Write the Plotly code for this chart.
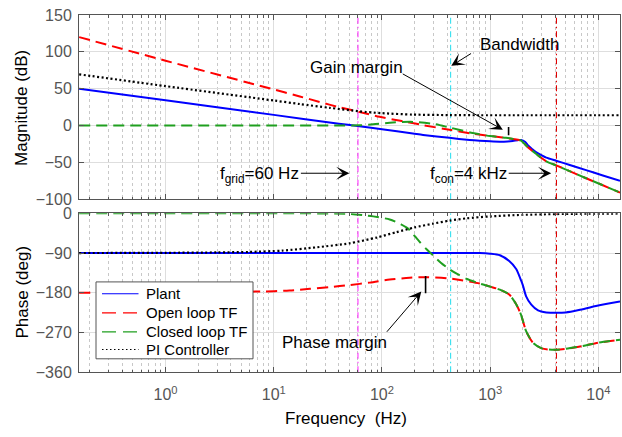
import numpy as np
import plotly.graph_objects as go

# ---------------- data ----------------
# Magnitude (dB)
plant_mag_f = [0.159, 1, 10, 40, 62, 100, 193, 240, 420, 646, 800, 1000, 1230, 1450, 1620,
               1800, 1930, 2100, 2240, 2450, 2650, 3000, 3300, 4130, 5350, 7700, 11000, 15850]
plant_mag = [50, 34.5, 14.5, 2.5, -1.0, -5, -10.7, -12.7, -16.7, -19.6, -20.6, -21.4, -21.8, -21.5, -20.8,
             -19.8, -19.5, -22, -27, -32, -36, -40.5, -43.5, -48, -53.2, -60.5, -67.7, -75]

open_mag_f = [0.159, 1, 10, 17.4, 26.6, 40, 62, 95, 130, 168, 240, 420, 690, 1060, 1620,
              1930, 2240, 2650, 3300, 4130, 5350, 7700, 11000, 15850]
open_mag = [120, 88, 49, 39.5, 32, 25, 18.5, 11.9, 8, 5, 0.6, -5.7, -11.0, -14.5, -18.2,
            -20.5, -29.6, -38.3, -48.5, -54.3, -61.5, -71.5, -81, -91]

closed_mag_f = [0.159, 10, 40, 62, 83, 126, 193, 295, 420, 690, 1000, 1400, 1750, 1930,
                2240, 2650, 3300, 4130, 5350, 7700, 11000, 15850]
closed_mag = [0, 0, 0.2, 0.4, 1.7, 4.2, 5.0, 2.4, -2.6, -10, -14.3, -16.6, -18.8, -20.5,
              -29.6, -38.3, -48.5, -54.3, -61.5, -71.5, -81, -91]

pi_mag_f = [0.159, 1, 10, 17.4, 33, 62, 100, 193, 420, 800, 15850]
pi_mag = [69.5, 53.5, 34, 29.2, 24, 19.3, 16.8, 14.9, 14.2, 14, 14]

# Phase (deg)
plant_ph_f = [0.159, 800, 1000, 1230, 1500, 1740, 1930, 2000, 2150, 2400, 2770, 3300, 4130,
              5000, 6600, 9500, 15850]
plant_ph = [-90, -90, -91.5, -95, -108, -126, -152, -162, -188, -207, -220, -224.5, -225.5,
            -224.5, -219, -210, -200]

open_ph_f = [0.159, 1, 8, 14, 21.6, 33, 50, 77, 118, 180, 256, 437, 800, 1000, 1230, 1500,
             1740, 1930, 2150, 2500, 3000, 3500, 4130, 5000, 7200, 10000, 15850]
open_ph = [-180, -179.5, -177, -175, -171, -167, -162.5, -157, -150, -146, -144.6, -148, -159,
           -166, -173, -184, -206, -230, -267, -294, -306, -308.5, -309, -307, -300.5, -293, -286.5]

closed_ph_f = [0.159, 17, 50, 71, 83, 118, 150, 168, 180, 222, 260, 296, 350, 422, 500, 600,
               800, 1000, 1230, 1500, 1740, 1930, 2150, 2500, 3000, 3500, 4130, 5000, 7200,
               10000, 15850]
closed_ph = [0, 0, -1.5, -5, -7, -14, -25, -32, -38, -64, -82, -95, -112, -127, -138, -148,
             -159, -166, -173, -184, -206, -230, -267, -294, -306, -308.5, -309, -307, -300.5,
             -293, -286.5]

pi_ph_f = [0.159, 1, 3, 6, 12, 25, 50, 89, 135, 200, 296, 422, 600, 1000, 2000, 4000, 8000, 15850]
pi_ph = [-90, -89.5, -88.6, -87.5, -84.5, -77, -68, -55, -43, -32, -23.5, -16.5, -11.5, -7,
         -3.5, -1.8, -0.9, -0.5]

# markers
vline_f = [60, 431, 4100]
gm_tick_f = [1480, 1480]
gm_tick_db = [-2, -13]
pm_tick_f = [253, 253]
pm_tick_deg = [-181, -142]

mag_ticks = [150, 100, 50, 0, -50, -100]
ph_ticks = [0, -90, -180, -270, -360]
x_tick_vals = [1, 10, 100, 1000, 10000]
x_tick_text = ['10<sup>0</sup>', '10<sup>1</sup>', '10<sup>2</sup>', '10<sup>3</sup>', '10<sup>4</sup>']
legend_names = ['Plant', 'Open loop TF', 'Closed loop TF', 'PI Controller']

# ---------------- styling ----------------
W, H = 622, 437
FONT = 'Liberation Sans, Arial, sans-serif'
BLUE, RED, GREEN, BLACK = '#0000ff', '#ff0000', '#1f9f1f', '#000000'
DASH = '11px,6px'
DOT = '2px,2.5px'
styles = [
    dict(color=BLUE, width=2, dash='solid'),
    dict(color=RED, width=2, dash=DASH),
    dict(color=GREEN, width=2, dash=DASH),
    dict(color=BLACK, width=2.2, dash=DOT),
]
vline_colors = ['#ff33ff', '#33e0f0', '#e00000']
VDASH = '6px,3px,1.5px,3px'
AX = '#555555'


def px(x):
    return x / W


def py(y):
    return 1 - y / H


fig = go.Figure()

mag_sets = [(plant_mag_f, plant_mag), (open_mag_f, open_mag), (closed_mag_f, closed_mag), (pi_mag_f, pi_mag)]
ph_sets = [(plant_ph_f, plant_ph), (open_ph_f, open_ph), (closed_ph_f, closed_ph), (pi_ph_f, pi_ph)]

# vertical reference lines (drawn first, under curves)
for f, c in zip(vline_f, vline_colors):
    fig.add_trace(go.Scatter(x=[f, f], y=[-100, 150], xaxis='x', yaxis='y', mode='lines',
                             line=dict(color=c, width=1.1, dash=VDASH), showlegend=False, hoverinfo='skip'))
    fig.add_trace(go.Scatter(x=[f, f], y=[-360, 0], xaxis='x2', yaxis='y2', mode='lines',
                             line=dict(color=c, width=1.1, dash=VDASH), showlegend=False, hoverinfo='skip'))

for (f, v), st in zip(mag_sets, styles):
    fig.add_trace(go.Scatter(x=f, y=v, xaxis='x', yaxis='y', mode='lines',
                             line=dict(shape='spline', smoothing=0.7, **st), showlegend=False, hoverinfo='skip'))
for (f, v), st in zip(ph_sets, styles):
    fig.add_trace(go.Scatter(x=f, y=v, xaxis='x2', yaxis='y2', mode='lines',
                             line=dict(shape='spline', smoothing=0.7, **st), showlegend=False, hoverinfo='skip'))

# margin tick marks
fig.add_trace(go.Scatter(x=gm_tick_f, y=gm_tick_db, xaxis='x', yaxis='y', mode='lines',
                         line=dict(color='black', width=1.6), showlegend=False, hoverinfo='skip'))
fig.add_trace(go.Scatter(x=pm_tick_f, y=pm_tick_deg, xaxis='x2', yaxis='y2', mode='lines',
                         line=dict(color='black', width=1.6), showlegend=False, hoverinfo='skip'))

xdom = [px(79), px(620)]
common_x = dict(type='log', range=[-0.8, 4.2], domain=xdom, showgrid=True, gridcolor='#dedede',
                gridwidth=1, tickmode='array', tickvals=x_tick_vals, ticks='inside', ticklen=5,
                tickcolor=AX, showline=True, linecolor=AX, linewidth=1, mirror='allticks',
                zeroline=False,
                minor=dict(ticks='inside', ticklen=2.5, tickcolor=AX, showgrid=True,
                           gridcolor='#c8c8c8', griddash='dot', gridwidth=1,
                           tickmode='array',
                           tickvals=[k * 10 ** d for d in range(-1, 5) for k in range(2, 10)]))
common_y = dict(showgrid=True, gridcolor='#dedede', gridwidth=1, ticks='inside', ticklen=5,
                tickcolor=AX, showline=True, linecolor=AX, linewidth=1, mirror='allticks',
                zeroline=False, tickfont=dict(size=16, color=AX), ticklabelstandoff=3)

fig.update_layout(
    width=W, height=H, margin=dict(l=0, r=0, t=0, b=0),
    paper_bgcolor='white', plot_bgcolor='white',
    font=dict(family=FONT, size=17, color='black'),
    xaxis=dict(**common_x, anchor='y', showticklabels=False),
    xaxis2=dict(**common_x, anchor='y2', showticklabels=True, ticktext=x_tick_text,
                tickfont=dict(size=16, color=AX), ticklabelstandoff=8),
    yaxis=dict(**common_y, domain=[py(199), py(7.3)], range=[-100, 150], tickvals=mag_ticks, anchor='x'),
    yaxis2=dict(**common_y, domain=[py(379), py(213.6)], range=[-360, 0], tickvals=ph_ticks, anchor='x2'),
    showlegend=False,
)

shapes = []
ann = []

# ---- manual legend (box, samples, labels) ----
leg_box = (96, 285, 253, 365)
leg_rows = [297.3, 317.3, 337, 355.3]
shapes.append(dict(type='rect', xref='paper', yref='paper', x0=px(leg_box[0]), x1=px(leg_box[2]),
                   y0=py(leg_box[3]), y1=py(leg_box[1]), line=dict(color=AX, width=1),
                   fillcolor='white', layer='above'))
for name, st, yy in zip(legend_names, styles, leg_rows):
    d = st['dash']
    if d == DASH:
        d = '14px,7px'
    elif d == DOT:
        d = '1.5px,2.5px'
    shapes.append(dict(type='line', xref='paper', yref='paper', x0=px(102), x1=px(138.5),
                       y0=py(yy), y1=py(yy), line=dict(color=st['color'], width=1.2, dash=d),
                       layer='above'))
    ann.append(dict(text=name, x=px(144), y=py(yy), xref='paper', yref='paper', xanchor='left',
                    yanchor='middle', showarrow=False, font=dict(size=15)))

# axis titles
ann.append(dict(text='Magnitude (dB)', x=px(22), y=py(104), xref='paper', yref='paper', textangle=-90,
                xanchor='center', yanchor='middle', showarrow=False))
ann.append(dict(text='Phase (deg)', x=px(22), y=py(296), xref='paper', yref='paper', textangle=-90,
                xanchor='center', yanchor='middle', showarrow=False))
ann.append(dict(text='Frequency\u00a0 (Hz)', x=px(346), y=py(427), xref='paper', yref='paper',
                xanchor='center', yanchor='middle', showarrow=False))
# text labels
ann.append(dict(text='Gain margin', x=px(356), y=py(62), xref='paper', yref='paper',
                xanchor='center', yanchor='middle', showarrow=False))
ann.append(dict(text='Bandwidth', x=px(519), y=py(38), xref='paper', yref='paper',
                xanchor='center', yanchor='middle', showarrow=False))
ann.append(dict(text='f<sub>grid</sub>=60 Hz', x=px(301), y=py(174), xref='paper', yref='paper',
                xanchor='right', yanchor='middle', showarrow=False))
ann.append(dict(text='f<sub>con</sub>=4 kHz', x=px(509), y=py(174), xref='paper', yref='paper',
                xanchor='right', yanchor='middle', showarrow=False))
ann.append(dict(text='Phase margin', x=px(335), y=py(348), xref='paper', yref='paper',
                xanchor='center', yanchor='middle', showarrow=False))

# arrows: (tip freq, tip value, axis, ax, ay)
arrows = [
    (1310, -5.7, 'y', -101.6, -56.7),
    (437, 81, 'y', 21.3, -13.3),
    (50, -64.7, 'y', -50, 0),
    (3665, -64.7, 'y', -44, 0),
    (231, -177.3, 'y2', -35.7, 41.7),
]
for f, v, ya, axp, ayp in arrows:
    xr = 'x' if ya == 'y' else 'x2'
    ann.append(dict(text='', x=np.log10(f), y=v, xref=xr, yref=ya, ax=axp, ay=ayp,
                    showarrow=True, arrowhead=3, arrowsize=2.2, arrowwidth=1, arrowcolor='black',
                    standoff=0, startstandoff=0))
fig.update_layout(annotations=ann, shapes=shapes)

fig.write_html('out.html')
